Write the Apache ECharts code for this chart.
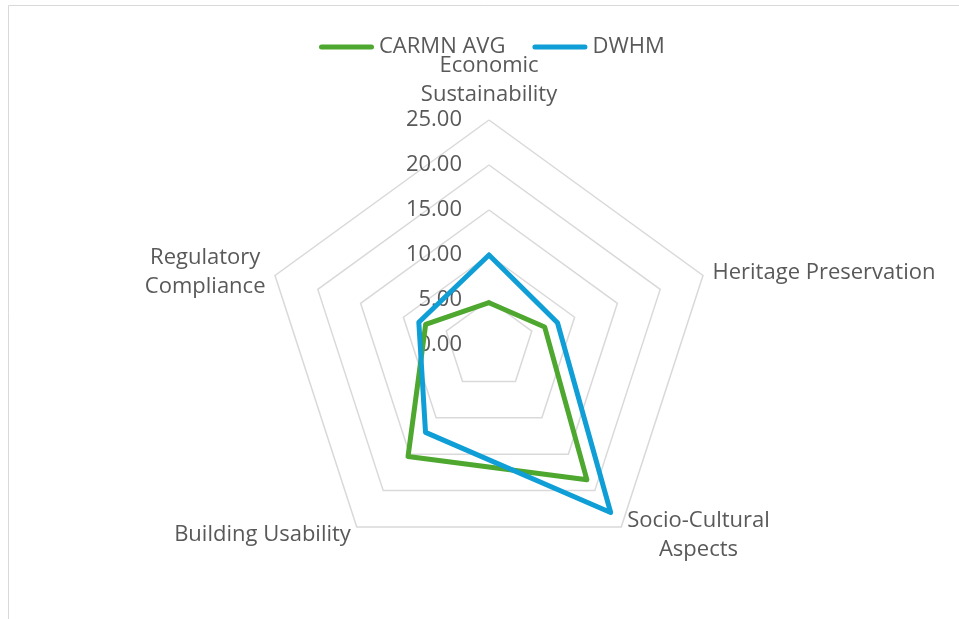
<!DOCTYPE html>
<html><head><meta charset="utf-8">
<script src="https://cdn.jsdelivr.net/npm/echarts@6/dist/echarts.min.js"></script>
<style>html,body{margin:0;padding:0;background:#fff}#c{width:959px;height:619px}</style>
</head><body><div id="c"></div>
<script>
// Categories in clockwise order starting from the top
const categories = ['Economic\nSustainability', 'Heritage Preservation', 'Socio-Cultural\nAspects', 'Building Usability', 'Regulatory\nCompliance'];
const seriesNames = ['CARMN AVG', 'DWHM'];
const carmnAvg = [4.7, 6.5, 18.5, 15.3, 7.4];
const dwhm = [10.0, 8.0, 23.0, 12.0, 8.2];
const axisMin = 0, axisMax = 25, axisStep = 5;

const TXT = '#595959';
const FONT = '"Open Sans", sans-serif';
// ECharts places indicators counter-clockwise; reorder so they appear clockwise
const order = [0, 4, 3, 2, 1];
const ordered = arr => order.map(i => arr[i]);

const indicator = order.map((i, k) => {
  const ind = { name: categories[i], min: axisMin, max: axisMax };
  if (k === 0) {
    ind.axisLabel = { show: true };
  }
  return ind;
});

const chart = echarts.init(document.getElementById('c'), null, { renderer: 'canvas' });
chart.setOption({
  backgroundColor: '#fff',
  animation: false,
  graphic: [{
    type: 'rect', silent: true, z: -10,
    shape: { x: 8.5, y: 5.5, width: 1000, height: 1000 },
    style: { fill: 'none', stroke: '#D9D9D9', lineWidth: 1 }
  }],
  legend: {
    data: seriesNames,
    left: 314, top: 31,
    itemWidth: 55, itemHeight: 5, itemGap: 27,
    icon: 'path://M2.5,0 H52.5 A2.5,2.5 0 0 1 52.5,5 H2.5 A2.5,2.5 0 0 1 2.5,0 Z',
    textStyle: { color: TXT, fontSize: 22, fontFamily: FONT }
  },
  radar: {
    center: [489, 345],
    radius: 225,
    startAngle: 90,
    shape: 'polygon',
    splitNumber: (axisMax - axisMin) / axisStep,
    indicator: indicator,
    nameGap: 10,
    axisName: {
      color: TXT, fontSize: 22, fontFamily: FONT, lineHeight: 29,
      formatter: name => name.split('\n').map(s => '{c|' + s + '}').join('\n'),
      rich: { c: { align: 'center', color: TXT, fontSize: 22, fontFamily: FONT, lineHeight: 29 } }
    },
    axisLine: { show: false },
    axisTick: { show: false },
    axisLabel: {
      show: false, color: TXT, fontSize: 22, fontFamily: FONT,
      formatter: v => Number(v).toFixed(2), margin: 27
    },
    splitLine: { lineStyle: { color: '#D9D9D9', width: 1.5 } },
    splitArea: { show: false }
  },
  series: [{
    type: 'radar',
    symbol: 'none',
    data: [
      { name: seriesNames[0], value: ordered(carmnAvg),
        lineStyle: { color: '#4EA72E', width: 5, cap: 'round', join: 'round' },
        itemStyle: { color: '#4EA72E' } },
      { name: seriesNames[1], value: ordered(dwhm),
        lineStyle: { color: '#0F9ED5', width: 5, cap: 'round', join: 'round' },
        itemStyle: { color: '#0F9ED5' } }
    ]
  }]
});
</script></body></html>
